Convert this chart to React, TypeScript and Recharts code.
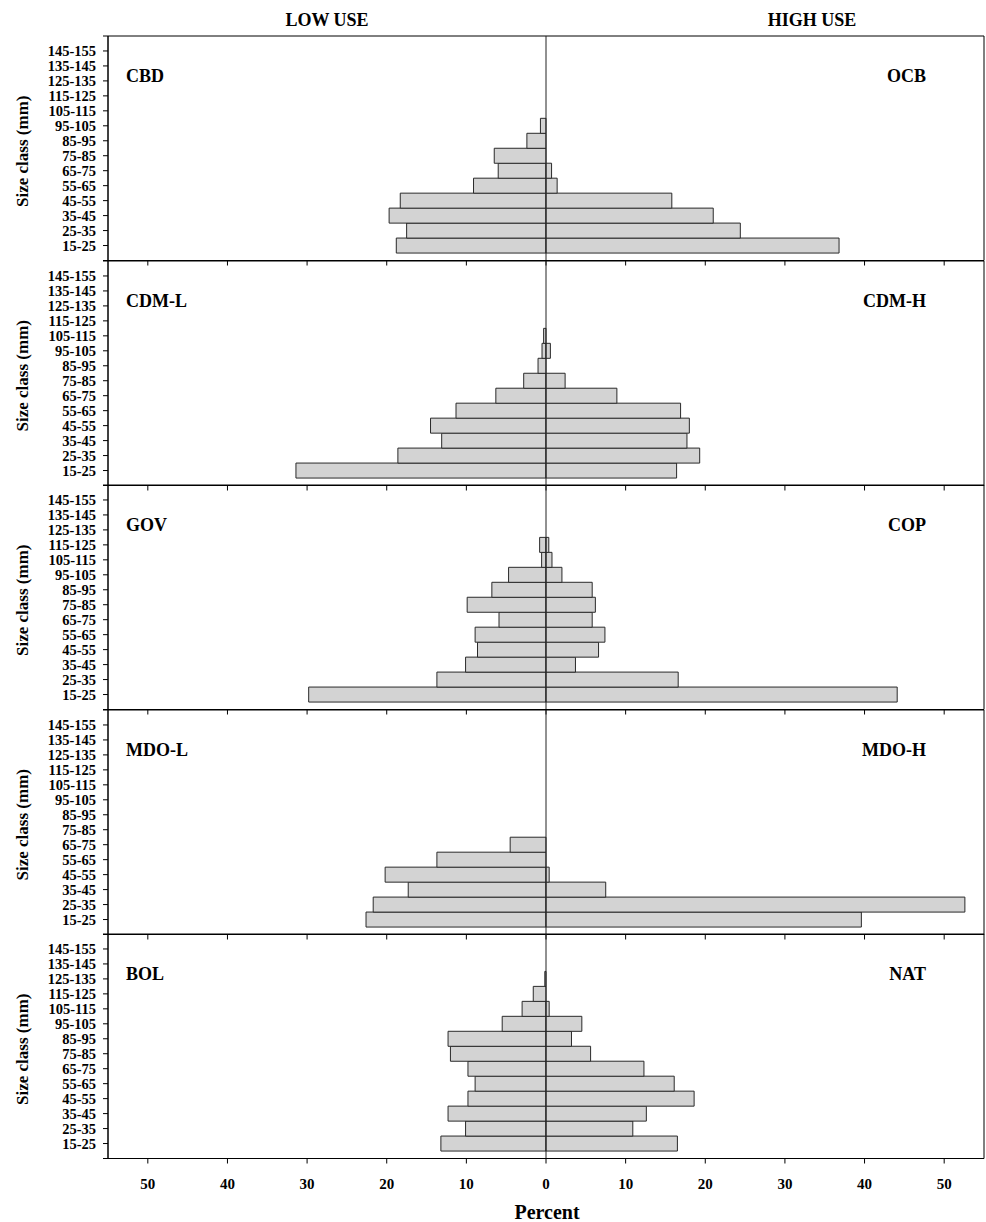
import React from 'react';
import { BarChart, Bar, XAxis, YAxis, ReferenceLine, ReferenceArea } from 'recharts';

const sizeClasses = ['15-25', '25-35', '35-45', '45-55', '55-65', '65-75', '75-85', '85-95', '95-105', '105-115', '115-125', '125-135', '135-145', '145-155'];
const xTicks = [-50, -40, -30, -20, -10, 0, 10, 20, 30, 40, 50];
const yTicks = [0, 1, 2, 3, 4, 5, 6, 7, 8, 9, 10, 11, 12, 13, 14, 15];

// values listed from 15-25 upward to 145-155
const cbdLow = [-18.8, -17.5, -19.7, -18.3, -9.1, -6.0, -6.5, -2.4, -0.7, 0, 0, 0, 0, 0];
const ocbHigh = [36.8, 24.4, 21.0, 15.8, 1.4, 0.7, 0, 0, 0, 0, 0, 0, 0, 0];
const cdmLLow = [-31.4, -18.6, -13.1, -14.5, -11.3, -6.3, -2.8, -1.0, -0.5, -0.3, 0, 0, 0, 0];
const cdmHHigh = [16.4, 19.3, 17.7, 18.0, 16.9, 8.9, 2.4, 0, 0.55, 0, 0, 0, 0, 0];
const govLow = [-29.8, -13.7, -10.1, -8.6, -8.9, -5.9, -9.9, -6.8, -4.7, -0.55, -0.8, 0, 0, 0];
const copHigh = [44.1, 16.6, 3.7, 6.6, 7.4, 5.8, 6.2, 5.8, 2.0, 0.75, 0.35, 0, 0, 0];
const mdoLLow = [-22.6, -21.7, -17.3, -20.2, -13.7, -4.5, 0, 0, 0, 0, 0, 0, 0, 0];
const mdoHHigh = [39.6, 52.6, 7.5, 0.4, 0, 0, 0, 0, 0, 0, 0, 0, 0, 0];
const bolLow = [-13.2, -10.1, -12.3, -9.8, -8.9, -9.8, -12.0, -12.3, -5.5, -3.0, -1.6, -0.15, 0, 0];
const natHigh = [16.5, 10.9, 12.6, 18.6, 16.1, 12.3, 5.6, 3.2, 4.5, 0.4, 0, 0, 0, 0];

const lowNames = ['CBD', 'CDM-L', 'GOV', 'MDO-L', 'BOL'];
const highNames = ['OCB', 'CDM-H', 'COP', 'MDO-H', 'NAT'];
const lowSeries = [cbdLow, cdmLLow, govLow, mdoLLow, bolLow];
const highSeries = [ocbHigh, cdmHHigh, copHigh, mdoHHigh, natHigh];

const FONT = '"Liberation Serif", "Times New Roman", serif';
const PANEL_TOPS = [36, 260.5, 485, 709.5, 934];
const PLOT_H = 224.5;
const PAD = 10;

function buildRows(low: number[], high: number[]) {
  return sizeClasses.map((c, i) => ({ pos: i + 1, label: c, low: low[i], high: high[i] }));
}

const EmptyTick = () => <g />;

function Panel({ idx }: { idx: number }) {
  const last = idx === PANEL_TOPS.length - 1;
  const data = buildRows(lowSeries[idx], highSeries[idx]);
  const bottomH = last ? 40 : PAD;
  return (
    <div style={{ position: 'absolute', left: 0, top: PANEL_TOPS[idx] - PAD }}>
      <BarChart
        width={986}
        height={PLOT_H + PAD + bottomH}
        data={data}
        layout="vertical"
        stackOffset="sign"
        barCategoryGap={0}
        barGap={0}
        margin={{ top: PAD, right: 2, bottom: 0, left: 0 }}
      >
        <XAxis
          type="number"
          domain={[-55, 55]}
          ticks={xTicks}
          interval={0}
          allowDataOverflow
          tickFormatter={(v: number) => String(Math.abs(v))}
          tick={last ? { fill: '#000', fontFamily: FONT, fontWeight: 'bold', fontSize: 15 } : EmptyTick}
          tickSize={5}
          tickMargin={15}
          height={bottomH}
          axisLine={{ stroke: '#000' }}
          tickLine={{ stroke: '#000' }}
        />
        <YAxis
          type="number"
          dataKey="pos"
          domain={[0, 15]}
          ticks={yTicks}
          interval={0}
          reversed
          allowDataOverflow
          width={108}
          tickSize={5}
          tickMargin={7}
          tickFormatter={(v: number) => sizeClasses[v - 1] ?? ''}
          tick={{ fill: '#000', fontFamily: FONT, fontWeight: 'bold', fontSize: 14.5 }}
          axisLine={{ stroke: '#000' }}
          tickLine={{ stroke: '#000' }}
        />
        <ReferenceArea x1={-55} x2={55} y1={0} y2={15} fill="none" stroke="#000" strokeWidth={1} ifOverflow="visible" />
        <Bar dataKey="low" stackId="s" fill="#d3d3d3" stroke="#2a2a2a" strokeWidth={1} isAnimationActive={false} />
        <Bar dataKey="high" stackId="s" fill="#d3d3d3" stroke="#2a2a2a" strokeWidth={1} isAnimationActive={false} />
        <ReferenceLine x={0} stroke="#222" strokeWidth={1} ifOverflow="visible" />
      </BarChart>
    </div>
  );
}

export default function App() {
  const textStyle = { fontFamily: FONT, fontWeight: 'bold' as const, fill: '#000' };
  return (
    <div style={{ position: 'absolute', left: 0, top: 0, width: 986, height: 1222, background: '#fff' }}>
      {PANEL_TOPS.map((_, i) => (
        <Panel key={i} idx={i} />
      ))}
      <svg width={986} height={1222} style={{ position: 'absolute', left: 0, top: 0, pointerEvents: 'none' }}>
        <text x={327} y={26} textAnchor="middle" fontSize={18} {...textStyle}>LOW USE</text>
        <text x={812} y={26} textAnchor="middle" fontSize={18} {...textStyle}>HIGH USE</text>
        {PANEL_TOPS.map((t, i) => (
          <g key={i}>
            <text x={126} y={t + 46} fontSize={18} {...textStyle}>{lowNames[i]}</text>
            <text x={926} y={t + 46} textAnchor="end" fontSize={18} {...textStyle}>{highNames[i]}</text>
            <text
              x={22}
              y={t + PLOT_H / 2 + 3}
              fontSize={17}
              textAnchor="middle"
              dominantBaseline="central"
              transform={`rotate(-90 22 ${t + PLOT_H / 2 + 3})`}
              {...textStyle}
            >
              Size class (mm)
            </text>
          </g>
        ))}
        <text x={547} y={1219} textAnchor="middle" fontSize={20} {...textStyle}>Percent</text>
      </svg>
    </div>
  );
}
